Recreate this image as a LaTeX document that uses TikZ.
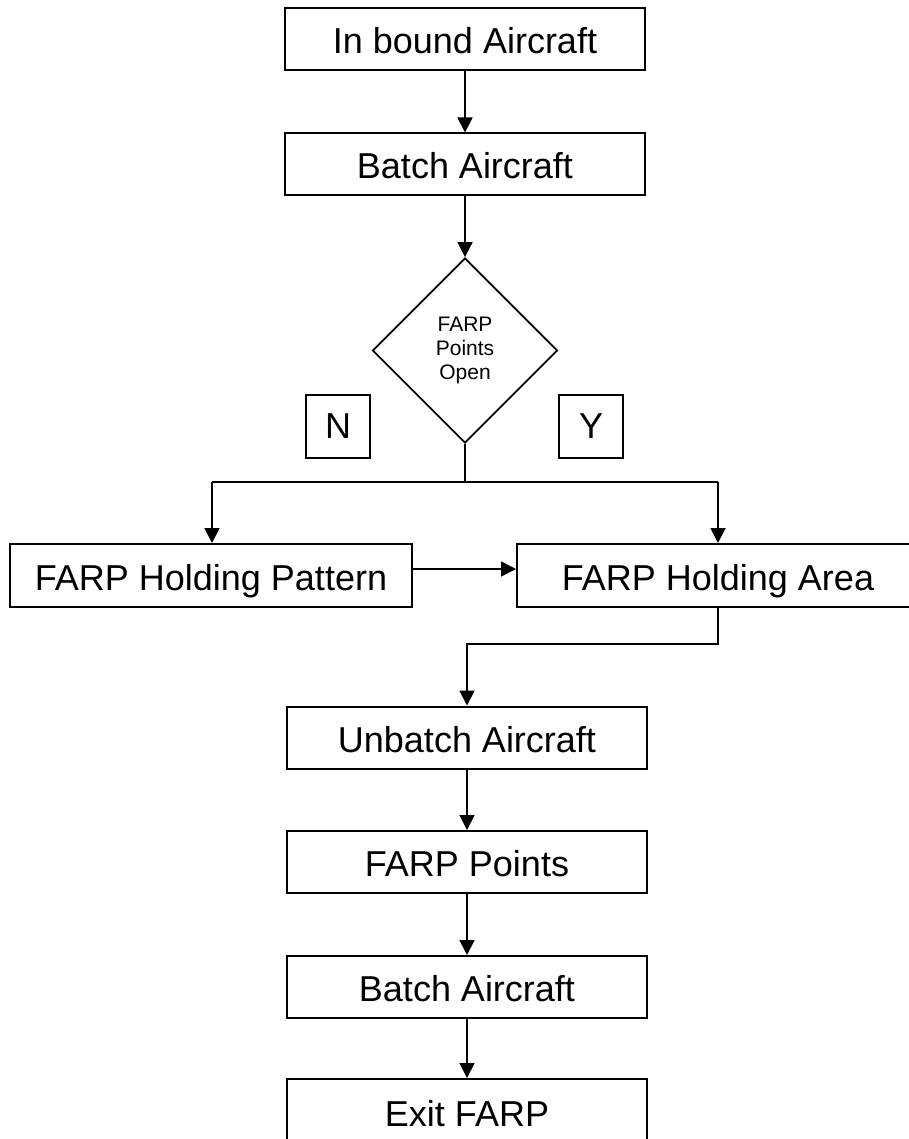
\documentclass[tikz,border=0pt]{standalone}
\usepackage{fontspec}
\setmainfont{Liberation Sans}
\usetikzlibrary{arrows.meta,shapes.geometric}
\begin{document}
\begin{tikzpicture}[x=1pt,y=-1pt,
  box/.style={draw,line width=2pt,inner sep=0pt,minimum height=62pt,text height=29pt,text depth=0pt,font=\fontsize{36}{43}\selectfont},
  dec/.style={draw,diamond,shape aspect=1,line width=1.8pt,inner sep=0pt,minimum width=185pt,minimum height=185pt,align=center,font=\fontsize{21}{24}\selectfont},
  lab/.style={draw,line width=2pt,inner sep=0pt,minimum width=64pt,minimum height=63pt,font=\fontsize{36}{43}\selectfont},
  conn/.style={line width=1.8pt,-{Triangle[length=15pt,width=15pt]}},
  plain/.style={line width=1.8pt}]
\useasboundingbox (0,0) rectangle (908,1139);
\node[box,minimum width=360pt] (inb) at (465,39.5) {In bound Aircraft};
\node[box,minimum width=360pt] (bat1) at (465,164.5) {Batch Aircraft};
\node[dec] (dec) at (465,350.5) {FARP\\Points\\Open};
\node[lab] (nlab) at (338,426.5) {N};
\node[lab] (ylab) at (591,426.5) {Y};
\node[box,minimum width=402pt,minimum height=63pt] (hp) at (211,575.5) {FARP Holding Pattern};
\node[box,minimum width=402pt,minimum height=63pt] (ha) at (718,575.5) {FARP Holding Area};
\node[box,minimum width=360pt] (unb) at (467,737.5) {Unbatch Aircraft};
\node[box,minimum width=360pt] (pts) at (467,862) {FARP Points};
\node[box,minimum width=360pt] (bat2) at (467,987) {Batch Aircraft};
\node[box,minimum width=360pt,minimum height=65pt] (exit) at (467,1111.5) {Exit FARP};
\coordinate (j1) at (465,482);
\coordinate (jl) at (212,482);
\coordinate (jr) at (718,482);
\draw[conn] (inb) -- (bat1);
\draw[conn] (bat1) -- (dec.north);
\draw[plain] (dec.south) -- (j1);
\draw[plain] (jl) -- (jr);
\draw[conn] (jl) -- (jl |- hp.north);
\draw[conn] (jr) -- (jr |- ha.north);
\draw[conn] ([yshift=6.5pt]hp.east) -- ([yshift=6.5pt]ha.west);
\draw[conn] (ha.south) -- ++(0,36) -| (unb.north);
\draw[conn] (unb) -- (pts);
\draw[conn] (pts) -- (bat2);
\draw[conn] (bat2) -- (exit);
\end{tikzpicture}
\end{document}
